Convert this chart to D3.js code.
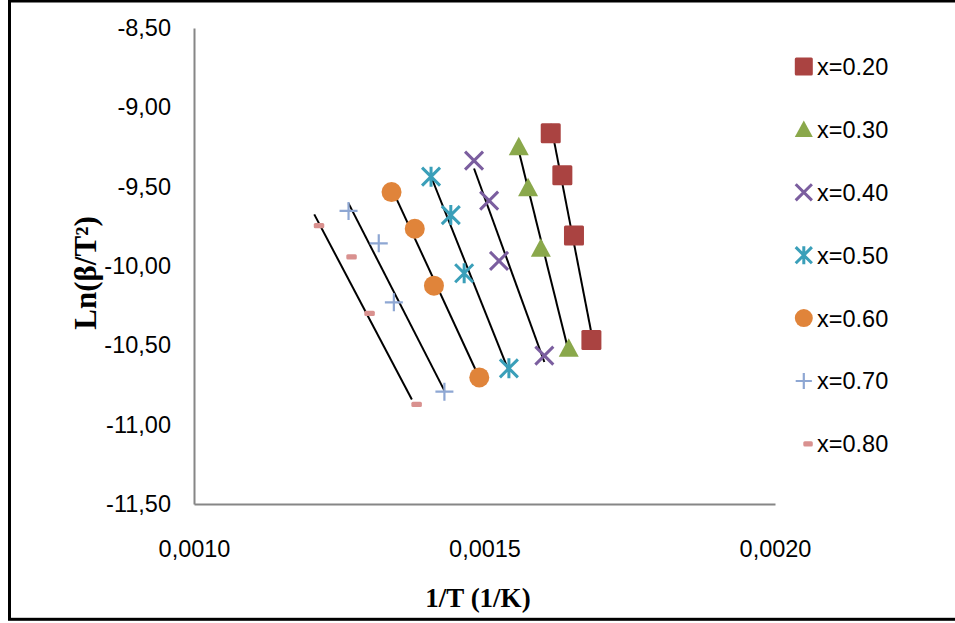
<!DOCTYPE html>
<html>
<head>
<meta charset="utf-8">
<script src="https://cdn.jsdelivr.net/npm/d3@7"></script>
<style>
  html, body { margin: 0; padding: 0; background: #fff; }
  svg { display: block; }
</style>
</head>
<body>
<div id="chart"></div>
<script>
// Series labels (Kissinger-type plot: ln(beta/T^2) against 1/T)
const seriesNames = ["x=0.20", "x=0.30", "x=0.40", "x=0.50", "x=0.60", "x=0.70", "x=0.80"];

// 1/T values (1/K) for each composition
const invT20 = [0.001614, 0.001634, 0.001654, 0.001684];
const invT30 = [0.001559, 0.001575, 0.001597, 0.001645];
const invT40 = [0.001482, 0.001508, 0.001525, 0.001603];
const invT50 = [0.001408, 0.001442, 0.001465, 0.001542];
const invT60 = [0.001340, 0.001380, 0.001413, 0.001491];
const invT70 = [0.001266, 0.001318, 0.001344, 0.001431];
const invT80 = [0.001207, 0.001263, 0.001294, 0.001375];

// ln(beta/T^2) values for each composition
const ln20 = [-9.164, -9.428, -9.807, -10.466];
const ln30 = [-9.248, -9.507, -9.888, -10.519];
const ln40 = [-9.336, -9.588, -9.968, -10.565];
const ln50 = [-9.437, -9.679, -10.046, -10.645];
const ln60 = [-9.534, -9.765, -10.124, -10.702];
const ln70 = [-9.653, -9.857, -10.229, -10.792];
const ln80 = [-9.746, -9.943, -10.298, -10.872];

// Axis ticks
const xTicks = [0.0010, 0.0015, 0.0020];
const yTicks = [-8.5, -9.0, -9.5, -10.0, -10.5, -11.0, -11.5];

const xValues = [invT20, invT30, invT40, invT50, invT60, invT70, invT80];
const yValues = [ln20, ln30, ln40, ln50, ln60, ln70, ln80];

const markerShapes = ["square", "triangle", "cross", "asterisk", "circle", "plus", "dash"];
const markerColors = ["#aa4341", "#8aa84b", "#7b5e9f", "#3a9fb9", "#e0843a", "#8ea7d3", "#d9918f"];

const W = 955, H = 623;
const svg = d3.select("#chart").append("svg")
  .attr("width", W).attr("height", H);

// outer frame
svg.append("rect")
  .attr("x", 9.5).attr("y", 1).attr("width", 960).attr("height", 618.3)
  .attr("fill", "none").attr("stroke", "#000").attr("stroke-width", 3);

const plot = { left: 194, right: 775, top: 28, bottom: 504 };

const x = d3.scaleLinear().domain([0.0010, 0.0020]).range([plot.left, plot.right]);
const y = d3.scaleLinear().domain([-11.5, -8.5]).range([plot.bottom, plot.top]);

// decimal comma and a plain hyphen for the minus sign
const fmt = (spec) => d => d3.format(spec)(d).replace("\u2212", "-").replace(".", ",");
const tickFont = "'Liberation Sans', Arial, sans-serif";

// y axis
const yAxis = svg.append("g")
  .attr("transform", `translate(${plot.left},0)`)
  .call(d3.axisLeft(y).tickValues(yTicks).tickSize(0).tickPadding(23)
    .tickFormat(fmt(".2f")));
// x axis
const xAxis = svg.append("g")
  .attr("transform", `translate(0,${plot.bottom})`)
  .call(d3.axisBottom(x).tickValues(xTicks).tickSize(0).tickPadding(36)
    .tickFormat(fmt(".4f")));

[yAxis, xAxis].forEach(g => {
  g.select(".domain").attr("stroke", "#868686").attr("stroke-width", 2);
  g.selectAll("text").attr("font-family", tickFont).attr("font-size", 23.5).attr("fill", "#000");
});

// Least-squares trend line over the x-range of each series
function fit(xs, ys) {
  const mx = d3.mean(xs), my = d3.mean(ys);
  let sxy = 0, sxx = 0;
  xs.forEach((v, i) => { sxy += (v - mx) * (ys[i] - my); sxx += (v - mx) * (v - mx); });
  const b = sxy / sxx, a = my - b * mx;
  const x0 = d3.min(xs), x1 = d3.max(xs);
  return [[x0, a + b * x0], [x1, a + b * x1]];
}

const trend = svg.append("g");
xValues.forEach((xs, i) => {
  const seg = fit(xs, yValues[i]);
  trend.append("line")
    .attr("x1", x(seg[0][0])).attr("y1", y(seg[0][1]))
    .attr("x2", x(seg[1][0])).attr("y2", y(seg[1][1]))
    .attr("stroke", "#000").attr("stroke-width", 2);
});

// Marker drawing
function drawMarker(g, shape, color, cx, cy, s) {
  const h = s / 2;
  switch (shape) {
    case "square":
      g.append("rect").attr("x", cx - h).attr("y", cy - h).attr("width", s).attr("height", s)
        .attr("rx", 1.5).attr("fill", color);
      break;
    case "triangle":
      g.append("path").attr("d", `M${cx},${cy - h}L${cx + h},${cy + h * 0.85}L${cx - h},${cy + h * 0.85}Z`)
        .attr("fill", color);
      break;
    case "cross":
      g.append("path").attr("d", `M${cx - h * 0.9},${cy - h * 0.9}L${cx + h * 0.9},${cy + h * 0.9}M${cx + h * 0.9},${cy - h * 0.9}L${cx - h * 0.9},${cy + h * 0.9}`)
        .attr("stroke", color).attr("stroke-width", 3).attr("fill", "none");
      break;
    case "asterisk":
      g.append("path").attr("d", `M${cx - h * 0.9},${cy - h * 0.9}L${cx + h * 0.9},${cy + h * 0.9}M${cx + h * 0.9},${cy - h * 0.9}L${cx - h * 0.9},${cy + h * 0.9}M${cx},${cy - h}L${cx},${cy + h}`)
        .attr("stroke", color).attr("stroke-width", 3).attr("fill", "none");
      break;
    case "circle":
      g.append("circle").attr("cx", cx).attr("cy", cy).attr("r", h).attr("fill", color);
      break;
    case "plus":
      g.append("path").attr("d", `M${cx - h * 0.9},${cy}L${cx + h * 0.9},${cy}M${cx},${cy - h * 0.9}L${cx},${cy + h * 0.9}`)
        .attr("stroke", color).attr("stroke-width", 2.2).attr("fill", "none");
      break;
    case "dash":
      g.append("rect").attr("x", cx - 0.5).attr("y", cy - 2.6).attr("width", h + 0.5).attr("height", 5.2)
        .attr("rx", 1.5).attr("fill", color);
      break;
  }
}

const marks = svg.append("g");
xValues.forEach((xs, i) => {
  xs.forEach((v, j) => {
    drawMarker(marks, markerShapes[i], markerColors[i], x(v), y(yValues[i][j]), 20);
  });
});

// Legend
const legend = svg.append("g");
const legendTop = 66.5, legendStep = 62.9;
seriesNames.forEach((name, i) => {
  const cy = legendTop + i * legendStep;
  drawMarker(legend, markerShapes[i], markerColors[i], 803.8, cy, 18);
  legend.append("text")
    .attr("x", 817).attr("y", cy).attr("dy", "0.36em")
    .attr("font-family", tickFont).attr("font-size", 23.5).attr("fill", "#000")
    .text(name);
});

// Axis titles
svg.append("text")
  .attr("x", 478).attr("y", 607)
  .attr("text-anchor", "middle")
  .attr("font-family", "'Liberation Serif', 'Times New Roman', serif")
  .attr("font-weight", "bold").attr("font-size", 27)
  .text("1/T (1/K)");

svg.append("text")
  .attr("transform", "translate(96,273) rotate(-90)")
  .attr("text-anchor", "middle")
  .attr("font-family", "'Liberation Serif', 'Times New Roman', serif")
  .attr("font-weight", "bold").attr("font-size", 31)
  .text("Ln(β/T²)");
</script>
</body>
</html>
